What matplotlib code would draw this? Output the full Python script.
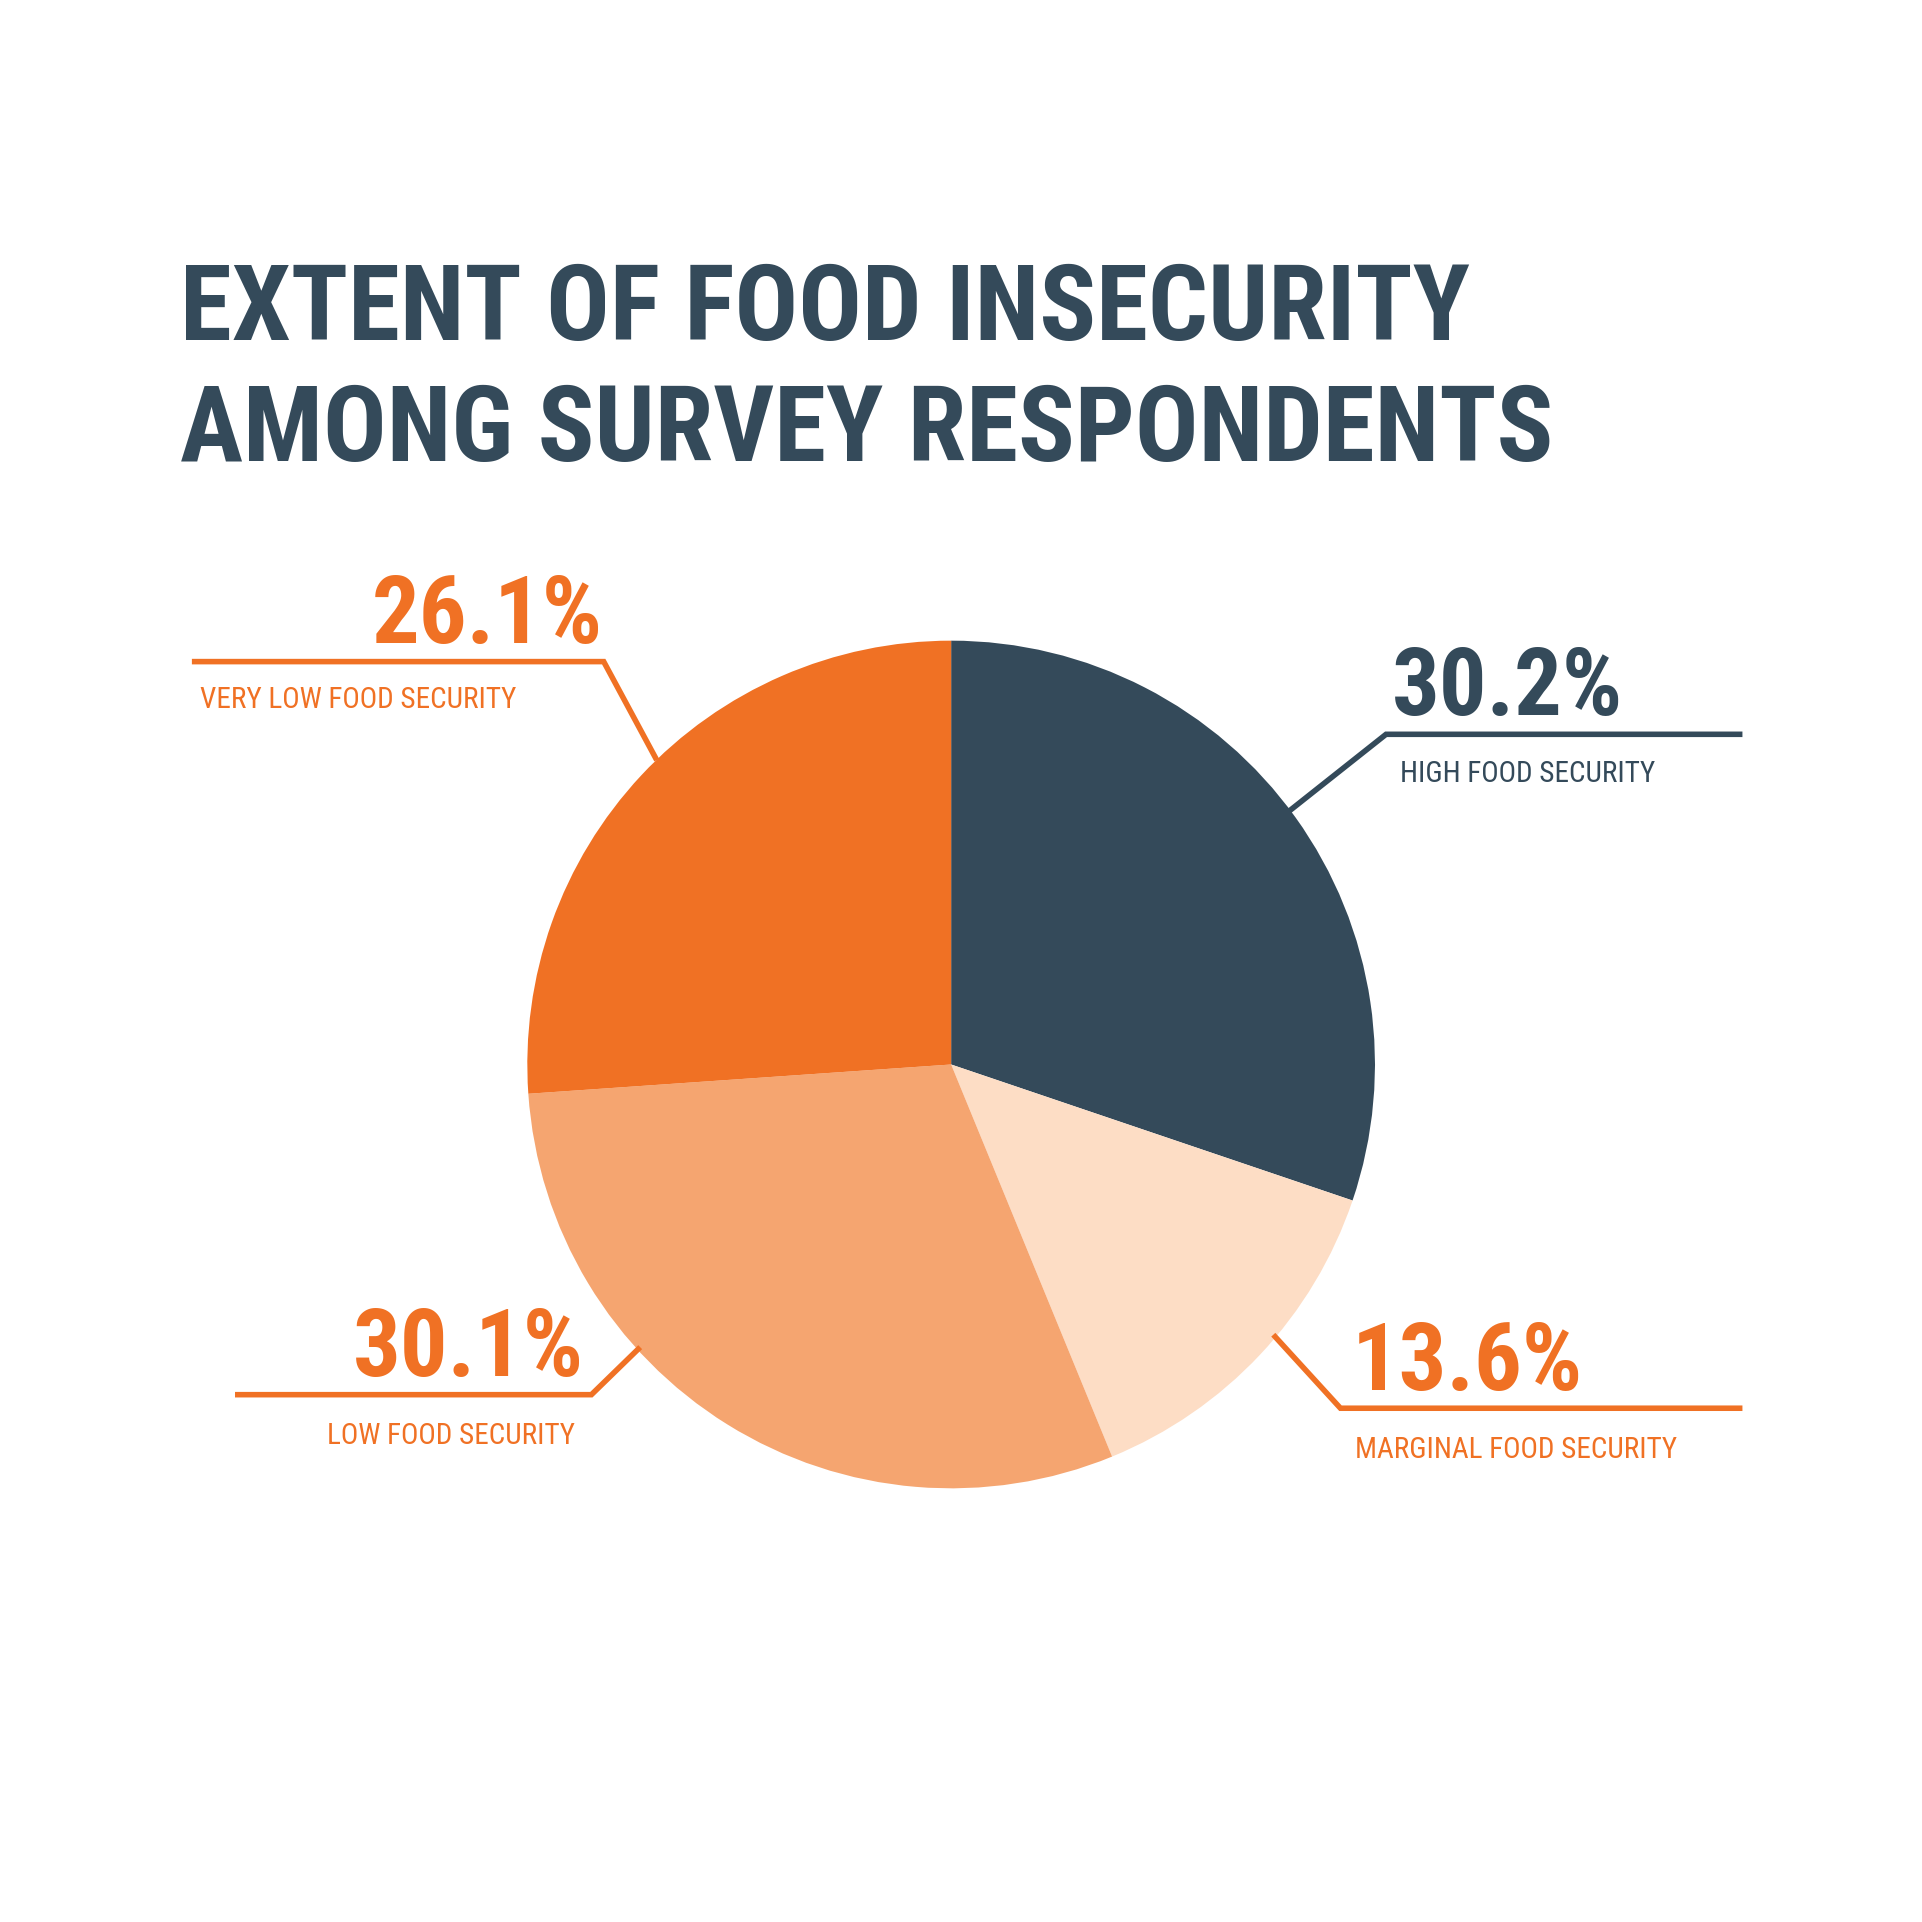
import matplotlib.pyplot as plt

labels = ["HIGH FOOD SECURITY", "MARGINAL FOOD SECURITY", "LOW FOOD SECURITY", "VERY LOW FOOD SECURITY"]
values = [30.2, 13.6, 30.1, 26.1]
pct_labels = ["30.2%", "13.6%", "30.1%", "26.1%"]
colors = ["#344A5A", "#FDDDC5", "#F5A570", "#F07124"]
text_colors = ["#344A5A", "#F07124", "#F07124", "#F07124"]

W = 1560.0  # reference layout measured in this pixel grid
def f(px, py):
    return px / W, 1 - py / W

plt.rcParams['font.family'] = ['Roboto Condensed', 'Liberation Sans Narrow', 'Roboto', 'DejaVu Sans']
fig = plt.figure(figsize=(19.22, 19.22), dpi=100)

cx, cy = f(772, 864)
r = 344 / W
ax = fig.add_axes([cx - r, cy - r, 2 * r, 2 * r])
ax.pie(values, colors=colors, startangle=90, counterclock=False, radius=1)
ax.set_xlim(-1, 1)
ax.set_ylim(-1, 1)
ax.set_aspect('equal')
ax.axis('off')

title_c = "#344A5A"
fig.text(*f(146, 276), "EXTENT OF FOOD INSECURITY", fontsize=76, fontweight='bold', color=title_c)
fig.text(*f(146, 374), "AMONG SURVEY RESPONDENTS", fontsize=76, fontweight='bold', color=title_c)

# leader lines, percent text, label: (line points, pct pos, pct ha, label pos, label ha)
layout = [
    ([(1048, 657), (1125, 596), (1412, 596)], (1130, 580), 'left', (1136, 635), 'left'),
    ([(1035, 1085), (1088, 1143), (1412, 1143)], (1097, 1128), 'left', (1100, 1183), 'left'),
    ([(518, 1095), (480, 1132), (193, 1132)], (474, 1117), 'right', (467, 1172), 'right'),
    ([(532, 615), (490, 537), (158, 537)], (489, 522), 'right', (162, 575), 'left'),
]
for i, (pts, pp, pha, lp, lha) in enumerate(layout):
    xs, ys = zip(*[f(*p) for p in pts])
    fig.add_artist(plt.Line2D(xs, ys, color=text_colors[i], lw=4, solid_joinstyle='miter'))
    fig.text(*f(*pp), pct_labels[i], fontsize=68, fontweight='bold', color=text_colors[i], ha=pha, va='baseline')
    fig.text(*f(*lp), labels[i], fontsize=21, color=text_colors[i], ha=lha, va='baseline')

fig.savefig("out.png", dpi=100, facecolor='white')
